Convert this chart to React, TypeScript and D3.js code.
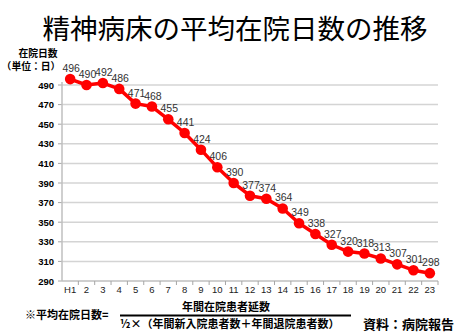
import React from "react";
import * as d3 from "d3";

const categories: string[] = ["H1","2","3","4","5","6","7","8","9","10","11","12","13","14","15","16","17","18","19","20","21","22","23"];
const values: number[] = [496,490,492,486,471,468,455,441,424,406,390,377,374,364,349,338,327,320,318,313,307,301,298];
const yTicks: number[] = [290,310,330,350,370,390,410,430,450,470,490];

const W = 465, H = 335;
const FONT = "'Noto Sans CJK JP', 'Noto Sans', sans-serif";
const NUM = "'Liberation Sans', Arial, sans-serif";

export default function App() {
  const left = 62, right = 438, top = 85, bottom = 281;
  const x = d3.scaleBand<string>().domain(categories).range([left, right]);
  const y = d3.scaleLinear().domain([290, 490]).range([bottom, top]);
  const cx = (c: string) => (x(c) as number) + x.bandwidth() / 2;
  const line = d3.line<number>().x((_, i) => cx(categories[i])).y(v => y(v));

  return (
    <svg width={W} height={H} style={{ position: "absolute", left: 0, top: 0, background: "#fff" }}>
      <text x={235} y={39} textAnchor="middle" fontFamily={FONT} fontSize={27.5} fill="#000">精神病床の平均在院日数の推移</text>
      <text x={38} y={57} textAnchor="middle" fontFamily={FONT} fontSize={9.8} fontWeight="bold" fill="#000">在院日数</text>
      <text x={31} y={70} textAnchor="middle" fontFamily={FONT} fontSize={9.8} fontWeight="bold" fill="#000">（単位：日）</text>

      {yTicks.map(t => (
        <g key={t}>
          {t !== 290 && <line x1={left} x2={right} y1={y(t)} y2={y(t)} stroke="#d4d4d4" strokeWidth={1.5} />}
          <line x1={left - 4} x2={left} y1={y(t)} y2={y(t)} stroke="#a6a6a6" strokeWidth={1} />
          <text x={54} y={y(t) + 3.5} textAnchor="end" fontFamily={NUM} fontSize={9.5} fontWeight="bold" fill="#000">{t}</text>
        </g>
      ))}
      <line x1={left} x2={left} y1={y(490) - 3} y2={bottom} stroke="#bfbfbf" strokeWidth={1.5} />
      <line x1={left} x2={right} y1={bottom} y2={bottom} stroke="#bfbfbf" strokeWidth={1.5} />
      {categories.map(c => (
        <line key={"tk" + c} x1={(x(c) as number) + x.bandwidth()} x2={(x(c) as number) + x.bandwidth()} y1={bottom} y2={bottom + 4} stroke="#a6a6a6" strokeWidth={1} />
      ))}
      {categories.map(c => (
        <text key={"xl" + c} x={cx(c)} y={293} textAnchor="middle" fontFamily={NUM} fontSize={9.5} fill="#222">{c}</text>
      ))}

      <path d={line(values) || ""} fill="none" stroke="#ff0000" strokeWidth={3.5} strokeLinejoin="round" />
      {values.map((v, i) => (
        <circle key={"p" + i} cx={cx(categories[i])} cy={y(v)} r={5.3} fill="#ff0000" />
      ))}
      {values.map((v, i) => (
        <text key={"l" + i} x={cx(categories[i]) + 1} y={y(v) - 7} textAnchor="middle" fontFamily={NUM} fontSize={10.5} fill="#333">{v}</text>
      ))}

      <text x={25} y={319} fontFamily={FONT} fontSize={11} fontWeight="bold" fill="#000">※平均在院日数=</text>
      <text x={226} y={311} textAnchor="middle" fontFamily={FONT} fontSize={11} fontWeight="bold" fill="#000">年間在院患者延数</text>
      <line x1={120} x2={351} y1={315.5} y2={315.5} stroke="#000" strokeWidth={2} />
      <text x={120} y={328} fontFamily={FONT} fontSize={11} fontWeight="bold" fill="#000">½×（年間新入院患者数＋年間退院患者数）</text>
      <text x={363} y={329} fontFamily={FONT} fontSize={13} fontWeight="bold" fill="#000">資料：病院報告</text>
    </svg>
  );
}
